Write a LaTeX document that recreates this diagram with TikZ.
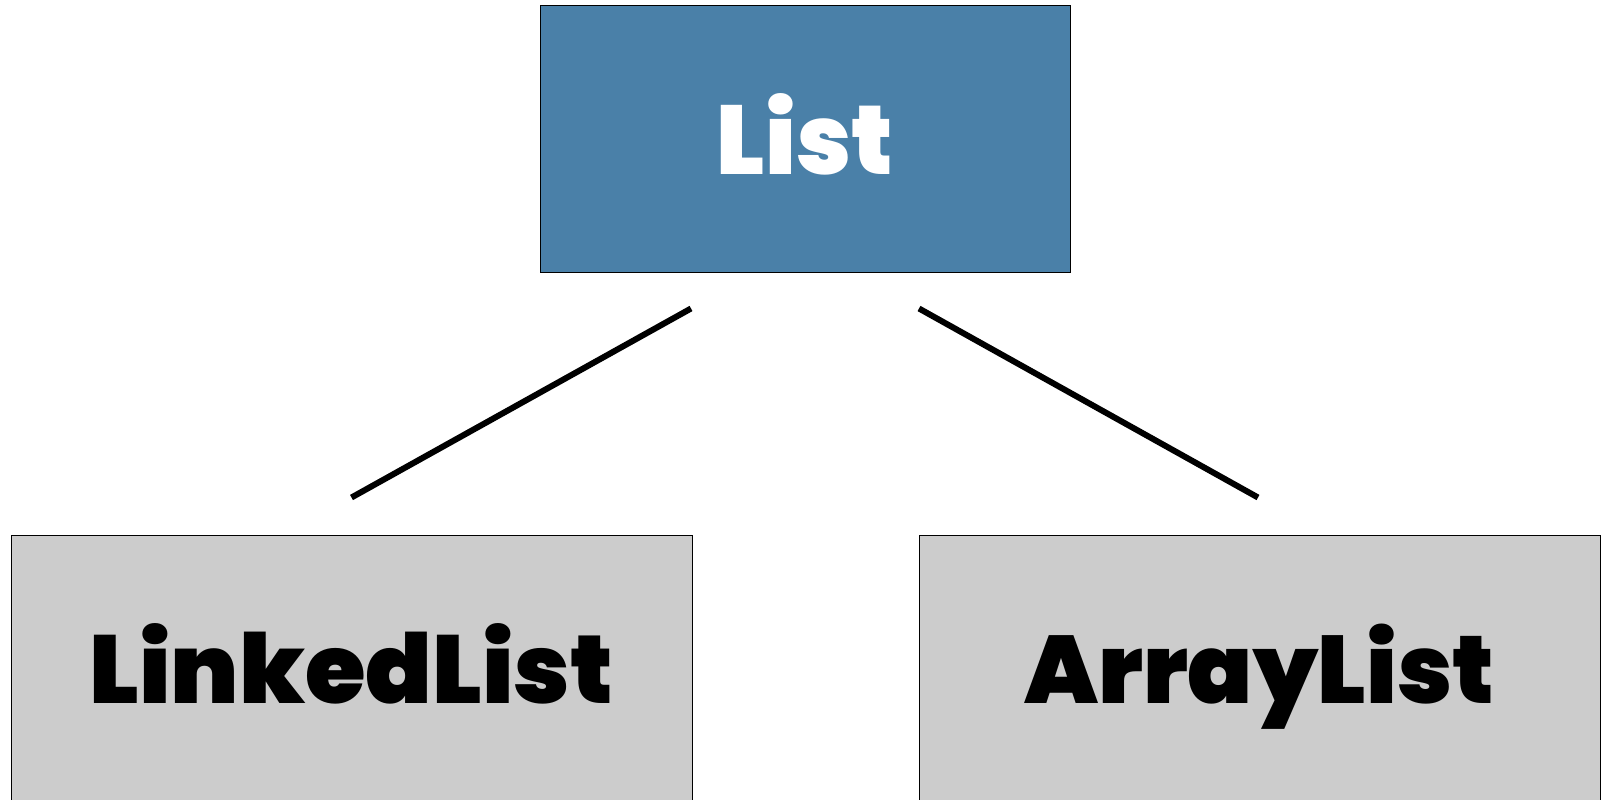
\documentclass[tikz,border=0pt]{standalone}
\usepackage{fontspec}
\usepackage{graphicx}
\newfontfamily\heavyfont{Poppins Black}
\usetikzlibrary{calc}
\definecolor{rootblue}{RGB}{74,128,168}
\definecolor{childgray}{RGB}{204,204,204}
\newcommand\classname[3]{\resizebox{#1}{#2}{\heavyfont #3}}
\tikzset{
  classbox/.style={draw=black, line width=1pt, minimum width=#1,
    minimum height=266pt, inner sep=0pt, text height=70pt, text depth=0pt},
  link/.style={line width=6pt, line cap=butt}
}
\begin{document}
\begin{tikzpicture}[x=1pt,y=-1pt]
  \useasboundingbox (0,0) rectangle (1601,800);
  % parent interface
  \node[classbox=530pt, fill=rootblue, text=white] (list) at (805,139)
    {\classname{176pt}{81pt}{List}};
  % implementations
  \node[classbox=681pt, fill=childgray, text=black] (linked) at (351.5,668)
    {\classname{524pt}{80pt}{LinkedList}};
  \node[classbox=681pt, fill=childgray, text=black] (array) at (1259.5,668)
    {\classname{470pt}{79.5pt}{ArrayList}};
  % connectors
  \coordinate (l1) at ($(list.south)+(-114,36)$);
  \coordinate (l2) at ($(linked.north)+(0,-37)$);
  \coordinate (r1) at ($(list.south)+(114,36)$);
  \coordinate (r2) at ($(array.north)+(-1.5,-37)$);
  \draw[link] (l1) -- (l2);
  \draw[link] (r1) -- (r2);
\end{tikzpicture}
\end{document}
